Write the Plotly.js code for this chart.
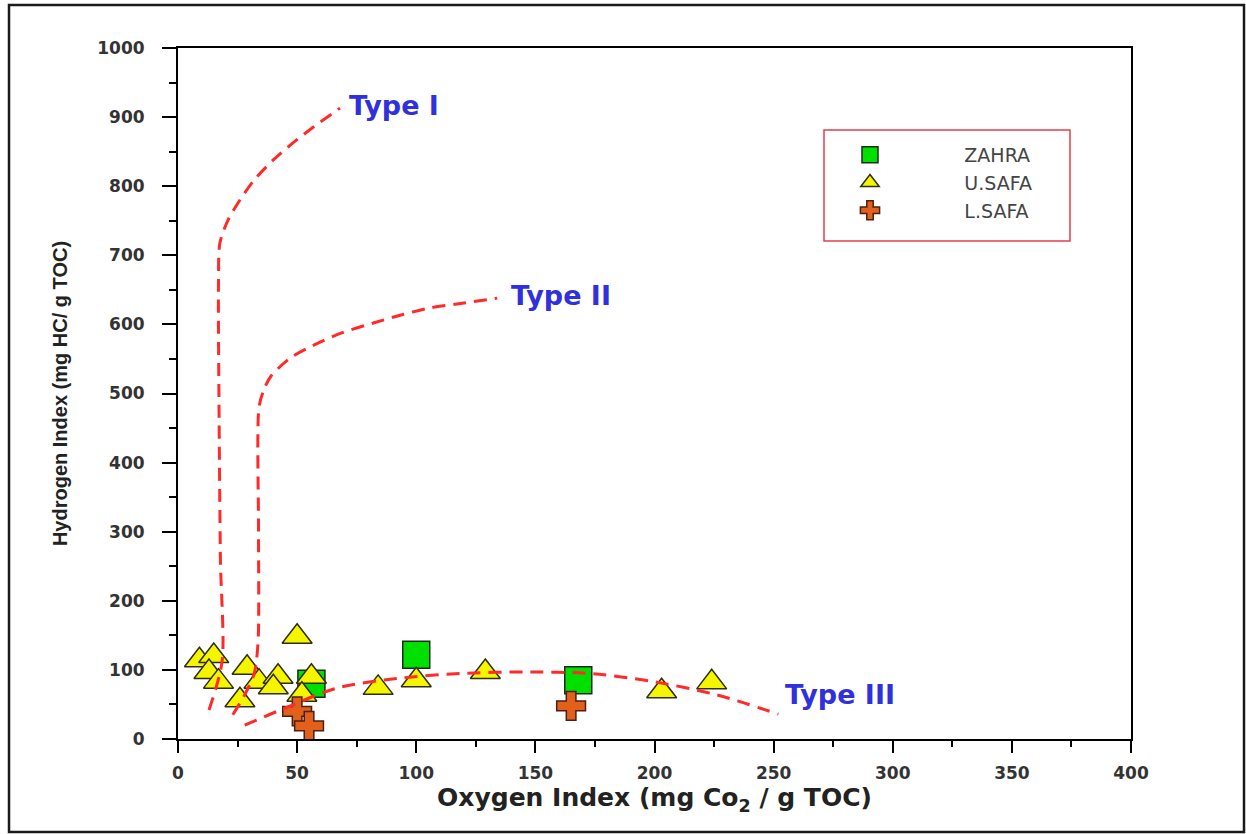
<!DOCTYPE html>
<html>
<head>
<meta charset="utf-8">
<script src="https://cdn.plot.ly/plotly-3.0.1.min.js"></script>
<style>
  html, body { margin: 0; padding: 0; background: #ffffff; }
  #chart { width: 1246px; height: 834px; }
</style>
</head>
<body>
<div id="chart"></div>
<script>
// ---- Sample data (Oxygen Index, Hydrogen Index) ----
const zahraOI = [56, 100, 168];
const zahraHI = [80, 122, 85];

const usafaOI = [9, 15, 13, 17, 26, 29, 34, 42, 40, 50, 56, 52, 84, 100, 129, 203, 224];
const usafaHI = [114, 120, 97, 83, 56, 103, 83, 90, 75, 148, 90, 64, 74, 85, 97, 69, 82];

const lsafaOI = [50, 55, 165];
const lsafaHI = [40, 19, 48];

// ---- Kerogen type boundary curves ----
const type1OI = [13, 18.5, 17.8, 17.2, 17, 17.6, 21, 26, 32, 40, 48, 57, 68];
const type1HI = [42, 112, 260, 490, 660, 718, 751, 780, 809, 838, 862, 886, 913];

const type2OI = [23, 28, 32, 33.6, 33.8, 34, 36, 39, 47, 57, 69, 82, 94, 106, 120, 134];
const type2HI = [35, 64, 95, 140, 300, 480, 505, 525, 551, 570, 588, 602, 614, 624, 631, 638];

const type3OI = [28, 43, 67, 93, 120, 146, 172, 198, 226, 252];
const type3HI = [20, 42, 74, 88, 95, 97, 95, 84, 64, 36];

// ---- Labels ----
const seriesNames = ['ZAHRA', 'U.SAFA', 'L.SAFA'];
const typeLabels = ['Type I', 'Type II', 'Type III'];
const typeLabelOI = [71, 139, 254];
const typeLabelHI = [917, 642, 64];

const xTitle = 'Oxygen Index (mg Co<sub>2</sub> / g TOC)';
const yTitle = 'Hydrogen Index (mg HC/ g TOC)';

const pad = s => '\u00a0'.repeat(9) + s;

const curveLine = { color: '#ff2a2a', width: 3, dash: '13px,8px', shape: 'spline', smoothing: 0.8 };

const traces = [
  {
    x: zahraOI, y: zahraHI, name: pad(seriesNames[0]), type: 'scatter', mode: 'markers',
    marker: { symbol: 'square', size: 27, color: '#00e000', line: { color: '#1c2a1c', width: 1.5 } }
  },
  {
    x: usafaOI, y: usafaHI, name: pad(seriesNames[1]), type: 'scatter', mode: 'markers',
    marker: { symbol: 'triangle-up', size: 26, color: '#f5f500', line: { color: '#2e2e14', width: 1.5 } }
  },
  {
    x: lsafaOI, y: lsafaHI, name: pad(seriesNames[2]), type: 'scatter', mode: 'markers',
    marker: { symbol: 'cross', size: 24, color: '#e0601c', line: { color: '#4a2010', width: 1.5 } }
  },
  { x: type1OI, y: type1HI, type: 'scatter', mode: 'lines', line: curveLine, showlegend: false, hoverinfo: 'skip' },
  { x: type2OI, y: type2HI, type: 'scatter', mode: 'lines', line: curveLine, showlegend: false, hoverinfo: 'skip' },
  { x: type3OI, y: type3HI, type: 'scatter', mode: 'lines', line: curveLine, showlegend: false, hoverinfo: 'skip' }
];

const annotations = typeLabels.map((t, i) => ({
  x: typeLabelOI[i], y: typeLabelHI[i], xref: 'x', yref: 'y',
  text: t, showarrow: false, xanchor: 'left', yanchor: 'middle',
  font: { family: 'DejaVu Sans', size: 27, color: '#3030dc', weight: 'bold' }
}));

const tickFont = { family: 'DejaVu Sans', size: 17, color: '#333333', weight: 'bold' };

// paper-coordinate helpers for the plot area (178..1131 x 48..739 px)
const px2x = p => (p - 178) / 953;
const py2y = p => (739 - p) / 691;

const layout = {
  width: 1246, height: 834,
  margin: { l: 178, r: 115, t: 48, b: 95 },
  paper_bgcolor: '#ffffff', plot_bgcolor: '#ffffff',
  showlegend: true,
  legend: {
    x: px2x(830), y: py2y(136), xanchor: 'left', yanchor: 'top',
    borderwidth: 0, bgcolor: 'rgba(0,0,0,0)',
    font: { family: 'DejaVu Sans', size: 19, color: '#444444' },
    itemwidth: 70,
    tracegroupgap: 0
  },
  xaxis: {
    range: [0, 400], dtick: 50, tick0: 0,
    showgrid: false, zeroline: false,
    showline: true, linecolor: '#000000', linewidth: 2, mirror: true,
    ticks: 'outside', ticklen: 12, tickwidth: 2, tickcolor: '#000000',
    minor: { dtick: 25, ticks: 'outside', ticklen: 6, tickwidth: 2, tickcolor: '#000000' },
    ticklabelstandoff: 6,
    tickfont: tickFont,
    automargin: true,
    title: { text: xTitle, standoff: 4, font: { family: 'DejaVu Sans', size: 25, color: '#222222', weight: 'bold' } }
  },
  yaxis: {
    range: [0, 1000], dtick: 100, tick0: 0,
    showgrid: false, zeroline: false,
    showline: true, linecolor: '#000000', linewidth: 2, mirror: true,
    ticks: 'outside', ticklen: 14, tickwidth: 2, tickcolor: '#000000',
    minor: { dtick: 50, ticks: 'outside', ticklen: 7, tickwidth: 2, tickcolor: '#000000' },
    ticklabelstandoff: 14,
    tickfont: tickFont,
    automargin: true,
    title: { text: yTitle, standoff: 24, font: { family: 'Liberation Sans', size: 20, color: '#222222', weight: 'bold' } }
  },
  annotations: annotations,
  shapes: [
    {
      type: 'rect', xref: 'paper', yref: 'paper', layer: 'above',
      x0: px2x(9), x1: px2x(1244), y0: py2y(832), y1: py2y(5),
      line: { color: '#1a1a1a', width: 2.5 }, fillcolor: 'rgba(0,0,0,0)'
    },
    {
      type: 'rect', xref: 'paper', yref: 'paper', layer: 'below',
      x0: px2x(824), x1: px2x(1070), y0: py2y(241), y1: py2y(130),
      line: { color: '#e0404c', width: 1.5 }, fillcolor: '#ffffff'
    }
  ]
};

Plotly.newPlot('chart', traces, layout, { displayModeBar: false, staticPlot: true });
</script>
</body>
</html>
